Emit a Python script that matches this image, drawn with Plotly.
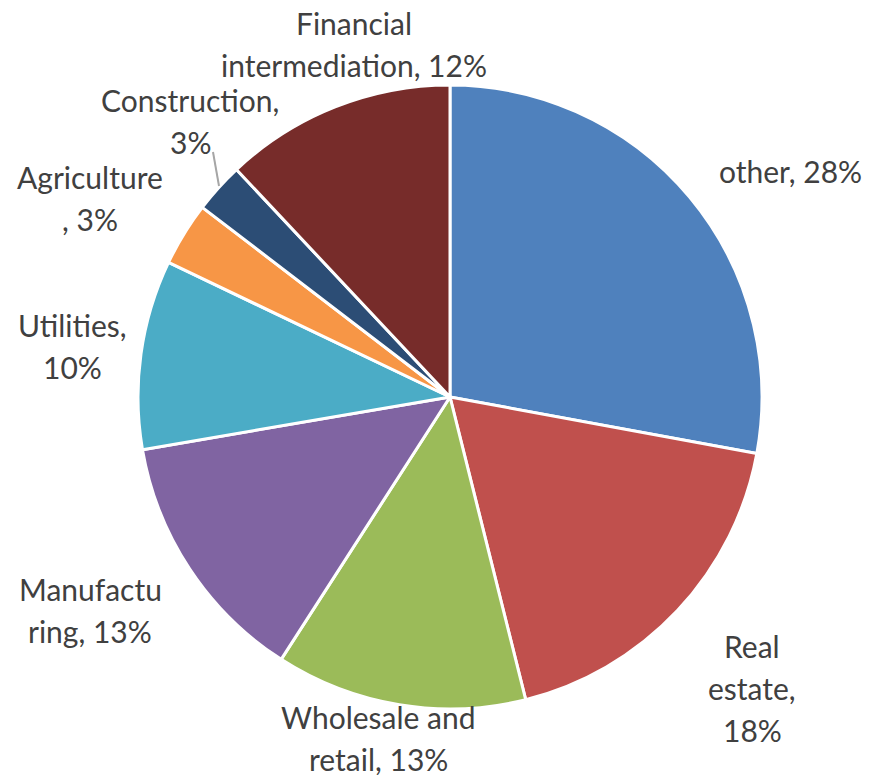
import plotly.graph_objects as go

# ---- data ----
labels = ["other", "Real estate", "Wholesale and retail", "Manufacturing",
          "Utilities", "Agriculture", "Construction", "Financial intermediation"]
values = [27.9, 18.2, 13.0, 13.2, 9.8, 3.3, 2.6, 12.0]
colors = ["#4F81BD", "#C0504D", "#9BBB59", "#8064A2",
          "#4BACC6", "#F79646", "#2C4D75", "#772C2A"]
# how each data label is wrapped ({p} = percentage)
label_lines = [
    ["other, {p}%"],
    ["Real", "estate,", "{p}%"],
    ["Wholesale and", "retail, {p}%"],
    ["Manufactu", "ring, {p}%"],
    ["Utilities,", "{p}%"],
    ["Agriculture", ", {p}%"],
    ["Construction,", "{p}%"],
    ["Financial", "intermediation, {p}%"],
]

OFF = 8  # page body margin
W, H = 870 - OFF, 775 - OFF
cx, cy, r = 450 - OFF, 397 - OFF, 312

# label positions (pixel centre of first line, page coords) and line step
label_pos = [(790, 171), (752, 646), (378, 717), (90, 589),
             (72, 325), (90, 177), (190, 100), (354, 23)]
line_step = 42

fig = go.Figure(go.Pie(
    labels=labels, values=values, sort=False, direction="clockwise", rotation=0,
    marker=dict(colors=colors, line=dict(color="white", width=3)),
    textinfo="none", hoverinfo="label+percent", showlegend=False,
    domain=dict(x=[(cx - r) / W, (cx + r) / W], y=[(H - cy - r) / H, (H - cy + r) / H]),
))

total = sum(values)
anns = []
for lines, (px, py), v in zip(label_lines, label_pos, values):
    p = round(100 * v / total)
    for i, ln in enumerate(lines):
        anns.append(dict(
            text=ln.format(p=p), x=(px - OFF) / W, y=1 - (py - OFF + i * line_step) / H,
            xref="paper", yref="paper", xanchor="center", yanchor="middle",
            showarrow=False, font=dict(family="Lato", size=30, color="#404040"),
        ))

fig.update_layout(
    width=W, height=H, margin=dict(l=0, r=0, t=0, b=0),
    paper_bgcolor="white", plot_bgcolor="white",
    annotations=anns,
    shapes=[dict(type="line", xref="paper", yref="paper",
                 x0=(213 - OFF) / W, y0=1 - (152 - OFF) / H,
                 x1=(219 - OFF) / W, y1=1 - (186 - OFF) / H,
                 line=dict(color="#A6A6A6", width=2))],
)
fig.write_html("out.html")
